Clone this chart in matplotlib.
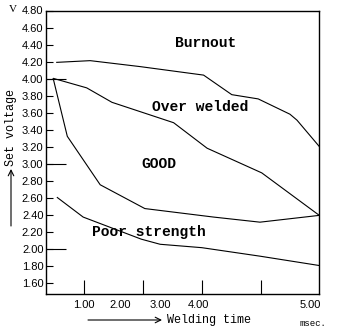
import matplotlib
matplotlib.use("Agg")
import matplotlib.pyplot as plt
from matplotlib.ticker import FixedLocator, NullFormatter, FixedFormatter

# Welding time axis (tick units: ticks at 1..5), set voltage (V)
burnout_x = [0.53, 1.10, 1.95, 3.03, 3.51, 3.96, 4.50, 4.62, 5.00]
burnout_y = [4.19, 4.21, 4.14, 4.04, 3.81, 3.76, 3.58, 3.51, 3.20]

overweld_x = [0.48, 1.04, 1.47, 2.52, 3.09, 4.02, 5.00]
overweld_y = [4.00, 3.89, 3.72, 3.48, 3.18, 2.89, 2.39]

good_x = [0.47, 0.71, 1.27, 2.03, 3.20, 3.99, 5.00]
good_y = [4.00, 3.32, 2.75, 2.47, 2.37, 2.31, 2.39]

poor_x = [0.54, 0.98, 1.97, 2.29, 3.00, 3.99, 5.00]
poor_y = [2.60, 2.37, 2.11, 2.05, 2.01, 1.91, 1.80]

region_labels = ["Burnout", "Over welded", "GOOD", "Poor strength"]
region_x = [3.07, 2.97, 2.27, 2.10]
region_y = [4.42, 3.66, 3.00, 2.19]

ytick_vals = [1.60, 1.80, 2.00, 2.20, 2.40, 2.60, 2.80, 3.00, 3.20, 3.40,
              3.60, 3.80, 4.00, 4.20, 4.40, 4.60, 4.80]
ytick_long = [2.00, 3.00, 4.00]
xtick_marks = [1, 2, 3, 4]
xlabel_pos = [1.00, 1.61, 2.30, 2.95, 4.845]
xlabel_text = ["1.00", "2.00", "3.00", "4.00", "5.00"]

W, H = 338, 336
fig = plt.figure(figsize=(W / 100, H / 100), dpi=100)
ax = fig.add_axes([46.3 / W, 1 - 294 / H, (319.3 - 46.3) / W, (294 - 10.5) / H])

for xs, ys in [(burnout_x, burnout_y), (overweld_x, overweld_y),
               (good_x, good_y), (poor_x, poor_y)]:
    ax.plot(xs, ys, color="black", lw=0.8)

ax.set_xlim(0.3526, 5.0)
ax.set_ylim(1.465, 4.80)

for s in ax.spines.values():
    s.set_linewidth(1.0)
    s.set_color("black")

# y ticks
ax.yaxis.set_major_locator(FixedLocator(ytick_vals))
ax.yaxis.set_major_formatter(FixedFormatter([f"{v:.2f}" for v in ytick_vals]))
ax.yaxis.set_minor_locator(FixedLocator(ytick_long))
ax.yaxis.set_minor_formatter(NullFormatter())
ax.yaxis.remove_overlapping_locs = False
ax.tick_params(axis="y", which="major", direction="in", length=5, width=0.8,
               pad=2, labelsize=8)
ax.tick_params(axis="y", which="minor", direction="in", length=14.4, width=0.8)

# x ticks: long marks without labels, labels at own positions
ax.xaxis.set_major_locator(FixedLocator(xtick_marks))
ax.xaxis.set_major_formatter(NullFormatter())
ax.xaxis.set_minor_locator(FixedLocator(xlabel_pos))
ax.xaxis.set_minor_formatter(FixedFormatter(xlabel_text))
ax.xaxis.remove_overlapping_locs = False
ax.tick_params(axis="x", which="major", direction="in", length=10, width=0.8)
ax.tick_params(axis="x", which="minor", length=0, pad=4, labelsize=8)

for lab in ax.get_xticklabels(minor=True) + ax.get_yticklabels():
    lab.set_fontfamily("Liberation Sans")

for t, x, y in zip(region_labels, region_x, region_y):
    ax.text(x, y, t, ha="center", va="center", fontsize=10.5,
            fontweight="bold", family="Liberation Mono")

def fx(px):
    return px / W

def fy(py):
    return 1 - py / H

fig.text(fx(13), fy(9), "V", family="Liberation Serif", fontsize=8,
         ha="center", va="center")
fig.text(fx(11.5), fy(127), "Set voltage", family="Liberation Mono",
         fontsize=8.5, rotation=90, ha="center", va="center")
fig.text(fx(209), fy(320.5), "Welding time", family="Liberation Mono",
         fontsize=8.5, ha="center", va="center")
fig.text(fx(313), fy(323), "msec.", family="Liberation Mono",
         fontsize=6.5, ha="center", va="center")

ax.annotate("", xy=(fx(11), fy(169)), xytext=(fx(11), fy(226)),
            xycoords="figure fraction", textcoords="figure fraction",
            arrowprops=dict(arrowstyle="->", lw=0.8, color="black",
                            mutation_scale=10, shrinkA=0, shrinkB=0))
ax.annotate("", xy=(fx(162), fy(320)), xytext=(fx(88), fy(320)),
            xycoords="figure fraction", textcoords="figure fraction",
            arrowprops=dict(arrowstyle="->", lw=0.8, color="black",
                            mutation_scale=10, shrinkA=0, shrinkB=0))

fig.savefig("out.png", dpi=100)
